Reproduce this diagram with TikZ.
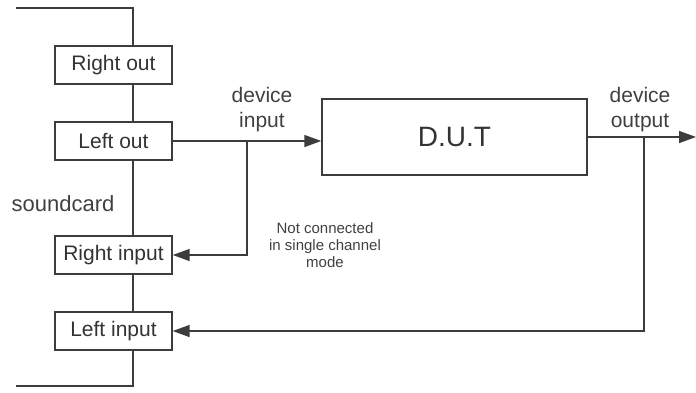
\documentclass[tikz,border=0pt]{standalone}
\usepackage{fontspec}
\setmainfont{Liberation Sans}
\usetikzlibrary{arrows.meta, positioning}
\definecolor{wiregray}{RGB}{60,60,60}

\tikzset{
    port/.style={draw=wiregray, line width=1.4pt, fill=white, minimum width=117pt, minimum height=38pt, inner sep=0pt, font=\fontsize{21}{25}\selectfont, text=black!80},
    wire/.style={draw=wiregray, line width=1.5pt},
    sig/.style={wire, -{Triangle[length=17pt, width=12pt]}},
    lbl/.style={align=center, font=\fontsize{21}{25}\selectfont, text=black!75, inner sep=0pt}
}

\begin{document}
\begin{tikzpicture}[x=1pt, y=-1pt]
    \useasboundingbox (0,0) rectangle (696,392);

    % soundcard ports
    \node[port] (rout) at (113.5,65) {Right out};
    \node[port] (lout) at (113.5,141) {Left out};
    \node[port] (rin) at (113.5,255) {Right input};
    \node[port] (lin) at (113.5,331) {Left input};

    % soundcard bus
    \coordinate (bus) at (133,0);
    \coordinate (tl) at (16,8);
    \coordinate (bl) at (16,386);
    \draw[wire] (tl) -| (bus |- rout.north);
    \draw[wire] (bus |- rout.south) -- (bus |- lout.north);
    \draw[wire] (bus |- lout.south) -- (bus |- rin.north);
    \draw[wire] (bus |- rin.south) -- (bus |- lin.north);
    \draw[wire] (bus |- lin.south) |- (bl);
    \node[lbl, font=\fontsize{22}{26}\selectfont] (card) at (63,204) {soundcard};

    % device under test
    \node[draw=wiregray, line width=1.5pt, minimum width=265pt, minimum height=76pt, font=\fontsize{28}{32}\selectfont, text=black!80] (dut) at (454.5,137) {D.U.T};

    \draw[sig] (lout.east) -- (lout.east -| dut.west);
    \coordinate (inbr) at (247,141);
    \draw[sig] (inbr) |- (rin.east);
    \node[lbl] (devin) at (262,110) {device\\input};

    \coordinate (outend) at (696,137);
    \draw[sig] (dut.east) -- (outend);
    \coordinate (outbr) at (644,137);
    \draw[sig] (outbr) |- (lin.east);
    \node[lbl] (devout) at (640,110) {device\\output};

    \node[lbl, font=\fontsize{15}{17}\selectfont] (note) at (325,245) {Not connected\\in single channel\\mode};
\end{tikzpicture}
\end{document}
